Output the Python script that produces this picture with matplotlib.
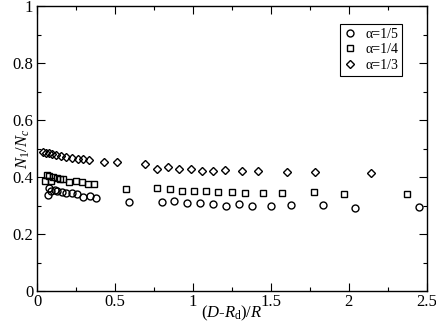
import matplotlib
matplotlib.use("Agg")
import matplotlib.pyplot as plt

plt.rcParams['font.family'] = ['Liberation Serif', 'DejaVu Serif']
plt.rcParams['mathtext.fontset'] = 'custom'
plt.rcParams['mathtext.rm'] = 'Liberation Serif'
plt.rcParams['mathtext.it'] = 'Liberation Serif:italic'

# alpha = 1/5 (circles)
x_a5 = [0.071, 0.077, 0.090, 0.113, 0.128, 0.156, 0.184, 0.221, 0.257, 0.295, 0.338, 0.377,
        0.586, 0.800, 0.877, 0.959, 1.044, 1.130, 1.209, 1.295, 1.376, 1.500, 1.626, 1.832,
        2.039, 2.453]
y_a5 = [0.337, 0.362, 0.352, 0.354, 0.352, 0.346, 0.343, 0.343, 0.339, 0.331, 0.334, 0.327,
        0.313, 0.311, 0.316, 0.308, 0.308, 0.304, 0.299, 0.305, 0.299, 0.299, 0.302, 0.302,
        0.292, 0.296]

# alpha = 1/4 (squares)
x_a4 = [0.050, 0.064, 0.075, 0.090, 0.099, 0.124, 0.146, 0.167, 0.206, 0.248, 0.289, 0.327,
        0.366, 0.569, 0.770, 0.852, 0.929, 1.006, 1.083, 1.162, 1.252, 1.333, 1.452, 1.570,
        1.776, 1.971, 2.375]
y_a4 = [0.385, 0.408, 0.403, 0.385, 0.399, 0.396, 0.394, 0.393, 0.384, 0.386, 0.384, 0.374,
        0.374, 0.358, 0.362, 0.357, 0.352, 0.352, 0.351, 0.348, 0.348, 0.345, 0.343, 0.343,
        0.346, 0.339, 0.340]

# alpha = 1/3 (diamonds)
x_a3 = [0.039, 0.056, 0.075, 0.094, 0.120, 0.150, 0.184, 0.221, 0.259, 0.295, 0.334, 0.428,
        0.513, 0.691, 0.766, 0.837, 0.911, 0.985, 1.057, 1.130, 1.203, 1.312, 1.419, 1.601,
        1.782, 2.142]
y_a3 = [0.487, 0.486, 0.484, 0.482, 0.478, 0.474, 0.472, 0.468, 0.465, 0.462, 0.460, 0.452,
        0.452, 0.446, 0.430, 0.436, 0.427, 0.429, 0.422, 0.420, 0.425, 0.421, 0.420, 0.418,
        0.418, 0.415]

labels = ['α=1/5', 'α=1/4', 'α=1/3']
xticks = [0, 0.5, 1, 1.5, 2, 2.5]
xticklabels = ['0', '0.5', '1', '1.5', '2', '2.5']
yticks = [0, 0.2, 0.4, 0.6, 0.8, 1.0]
yticklabels = ['0', '0.2', '0.4', '0.6', '0.8', '1']
xminor = [0.25, 0.75, 1.25, 1.75, 2.25]
yminor = [0.1, 0.3, 0.5, 0.7, 0.9]

fig = plt.figure(figsize=(4.36, 3.23), dpi=100)
ax = fig.add_axes([0.0856, 0.099, 0.893, 0.882])

ax.plot(x_a5, y_a5, 'o', mfc='none', mec='black', ms=5, mew=1.0, label=labels[0])
ax.plot(x_a4, y_a4, 's', mfc='none', mec='black', ms=4.5, mew=1.0, label=labels[1])
ax.plot(x_a3, y_a3, 'D', mfc='none', mec='black', ms=3.8, mew=1.0, label=labels[2])

ax.set_xlim(0, 2.5)
ax.set_ylim(0, 1)
ax.set_xticks(xticks)
ax.set_xticklabels(xticklabels)
ax.set_xticks(xminor, minor=True)
ax.set_yticks(yticks)
ax.set_yticklabels(yticklabels)
ax.set_yticks(yminor, minor=True)
ax.tick_params(which='both', direction='in', top=True, right=True, labelsize=12)
ax.tick_params(axis='x', which='major', pad=2)
ax.tick_params(axis='y', which='major', pad=3)
ax.tick_params(which='major', length=6, width=0.8)
ax.tick_params(which='minor', length=3, width=0.8)
for s in ax.spines.values():
    s.set_linewidth(1.0)

ax.set_xlabel(r'($D$-$R_{\mathrm{d}}$)/$R$', fontsize=12)
ax.xaxis.set_label_coords(0.5, -0.077)
ax.xaxis.label.set_va('center')
ax.set_ylabel(r'$N_1$/$N_c$', fontsize=12)
ax.yaxis.set_label_coords(-0.036, 0.5)
ax.yaxis.label.set_va('center')

leg = ax.legend(loc='upper right', bbox_to_anchor=(0.9366, 0.937), fontsize=10, frameon=True,
                fancybox=False, edgecolor='black', handlelength=1.0, handletextpad=0.6,
                borderpad=0.25, labelspacing=0.2, borderaxespad=0.0, framealpha=1)
leg.get_frame().set_linewidth(0.8)

fig.savefig('out.png', dpi=100)
